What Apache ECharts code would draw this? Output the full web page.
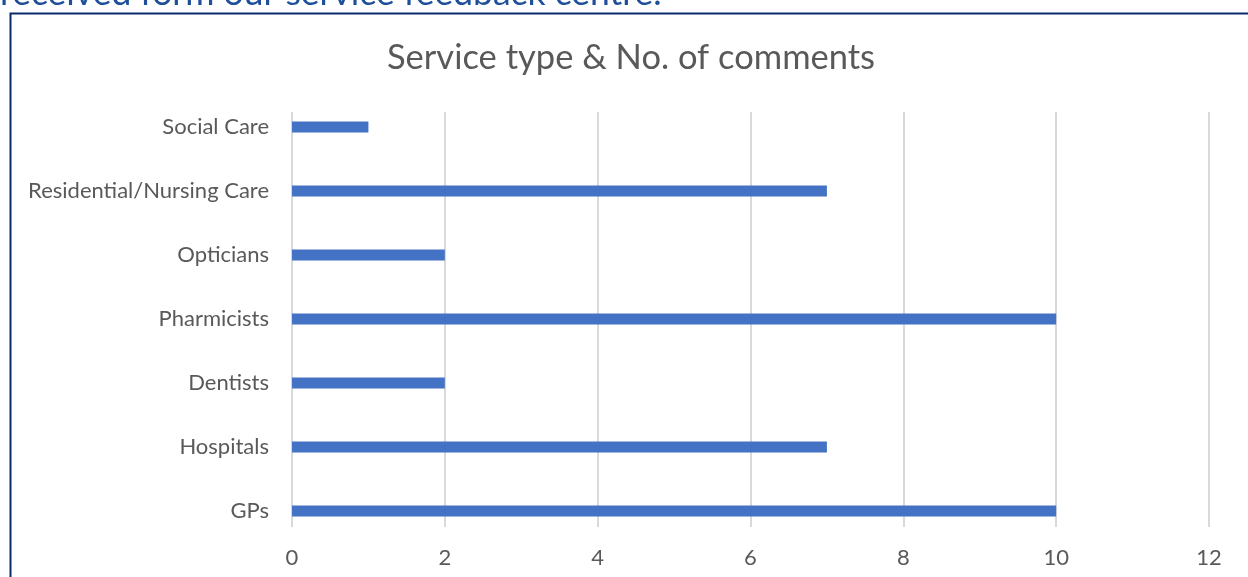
<!DOCTYPE html>
<html><head><meta charset="utf-8">
<script src="https://cdn.jsdelivr.net/npm/echarts@6/dist/echarts.min.js"></script>
<style>html,body{margin:0;padding:0;background:#fff}#c{width:1248px;height:577px}</style>
</head><body><div id="c"></div>
<script>
const categories = ['GPs','Hospitals','Dentists','Pharmicists','Opticians','Residential/Nursing Care','Social Care'];
const values = [10,7,2,10,2,7,1];
const xTicks = [0,2,4,6,8,10,12];
const titleText = 'Service type & No. of comments';
const headerText = 'received form our service feedback centre.';

const FONT = 'Lato';
const chart = echarts.init(document.getElementById('c'));
chart.setOption({
  animation:false,
  title:{text:titleText,left:626,textAlign:'center',top:35,textStyle:{fontFamily:FONT,fontSize:34.5,fontWeight:'normal',color:'#595959'}},
  graphic:[
    {type:'text',left:0,top:-24,style:{text:headerText,fontFamily:FONT,fontSize:35.5,fill:'#1F4E9A'}},
    {type:'rect',shape:{x:10.5,y:13.5,width:1300,height:700},style:{fill:'none',stroke:'#0B2A6B',lineWidth:2}}
  ],
  grid:[
    {left:292,right:39,top:95,height:448,containLabel:false},
    {left:292,right:39,top:112,height:415,containLabel:false}
  ],
  xAxis:[
    {gridIndex:0,type:'value',min:0,max:12,interval:2,axisLine:{show:false},axisTick:{show:false},axisLabel:{show:false},splitLine:{show:false}},
    {gridIndex:1,type:'value',min:xTicks[0],max:xTicks[xTicks.length-1],interval:2,axisLine:{show:false},axisTick:{show:false},
     axisLabel:{margin:20,fontFamily:FONT,fontSize:22,color:'#595959'},
     splitLine:{show:true,lineStyle:{color:'#D9D9D9',width:2}}}
  ],
  yAxis:[
    {gridIndex:0,type:'category',data:categories,axisLine:{show:false},axisTick:{show:false},
     axisLabel:{margin:23,fontFamily:FONT,fontSize:22,color:'#595959'}},
    {gridIndex:1,type:'category',data:categories,show:false}
  ],
  series:[{type:'bar',xAxisIndex:0,yAxisIndex:0,data:values,barWidth:11,itemStyle:{color:'#4472C4'},z:3}]
});
</script></body></html>
